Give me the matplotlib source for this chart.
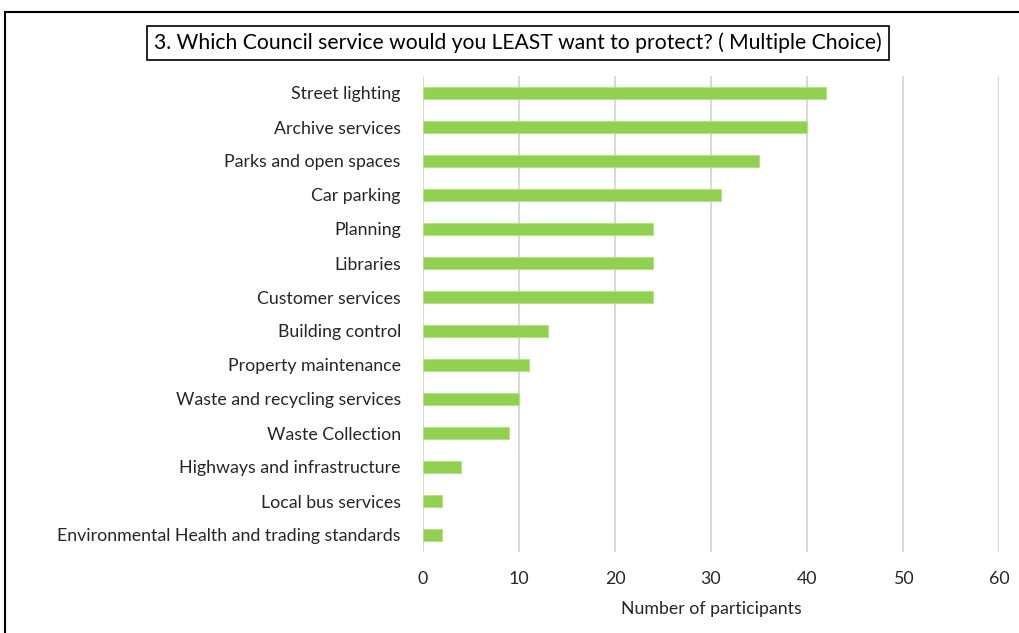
import matplotlib.pyplot as plt
from matplotlib.patches import Rectangle

services = ['Street lighting', 'Archive services', 'Parks and open spaces', 'Car parking',
            'Planning', 'Libraries', 'Customer services', 'Building control',
            'Property maintenance', 'Waste and recycling services', 'Waste Collection',
            'Highways and infrastructure', 'Local bus services',
            'Environmental Health and trading standards']
participants = [42, 40, 35, 31, 24, 24, 24, 13, 11, 10, 9, 4, 2, 2]
x_ticks = [0, 10, 20, 30, 40, 50, 60]

plt.rcParams['font.family'] = ['Lato', 'DejaVu Sans']

fig = plt.figure(figsize=(10.2, 6.33), dpi=100)
ax = fig.add_axes([423 / 1020, 1 - 552 / 633, 576 / 1020, 476 / 633])

pos = list(range(len(services)))
ax.barh(pos, participants, height=0.36, color='#92d050', edgecolor='#b5e08a', linewidth=0.8, zorder=3)
ax.set_ylim(len(services) - 0.5, -0.5)
ax.set_xlim(0, 60)
ax.set_xticks(x_ticks)
ax.set_yticks(pos)
ax.set_yticklabels(services, fontsize=12.8, color='#262626')
ax.tick_params(axis='x', labelsize=12.8, colors='#262626', length=0, pad=14)
ax.tick_params(axis='y', length=0, pad=16)
ax.grid(axis='x', color='#d9d9d9', linewidth=1.5, zorder=0)
for s in ax.spines.values():
    s.set_visible(False)
ax.set_xlabel('Number of participants', fontsize=12.8, color='#262626', labelpad=10)

# outer frame
fig.add_artist(Rectangle((5 / 1020, -0.1), 1.2, 1 - 12 / 633 + 0.1, transform=fig.transFigure,
                         fill=False, edgecolor='black', linewidth=1.5))

fig.text(518 / 1020, 1 - 43 / 633, '3. Which Council service would you LEAST want to protect? ( Multiple Choice)',
         ha='center', va='center', fontsize=15.2, color='black',
         bbox=dict(boxstyle='square,pad=0.33', facecolor='white', edgecolor='black', linewidth=1.2))

fig.savefig('out.png', dpi=100)
